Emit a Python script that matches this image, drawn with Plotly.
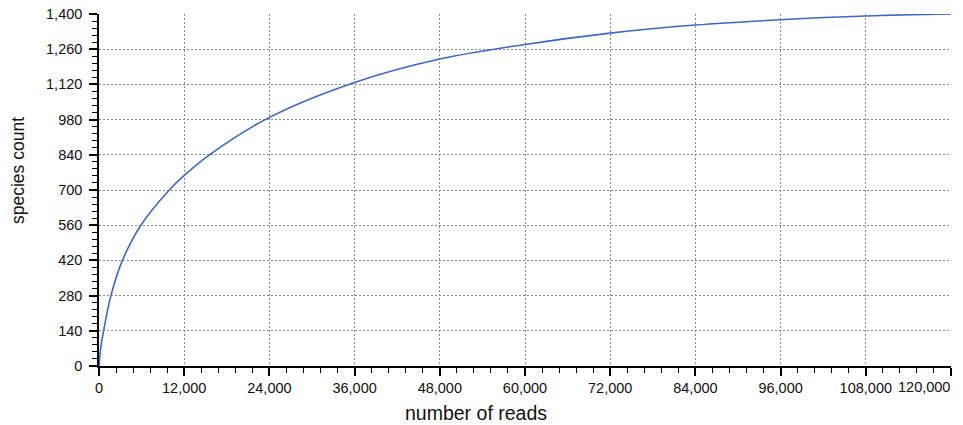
import plotly.graph_objects as go

reads = [0, 270, 650, 1680, 3300, 5900, 9900, 12000, 15560, 24000, 36000,
         48000, 60000, 72000, 84000, 96000, 108000, 120000]
species = [0, 77, 140, 280, 420, 560, 700, 758, 840, 989, 1128,
           1221, 1279, 1324, 1356, 1377, 1392, 1400]

x_ticks = list(range(0, 120001, 12000))
y_ticks = list(range(0, 1401, 140))
x_labels = [f"{v:,}" for v in x_ticks]

x_title = "number of reads"
y_title = "species count"

font_family = "Liberation Sans, Arial, sans-serif"

fig = go.Figure(go.Scatter(
    x=reads, y=species, mode="lines",
    line=dict(color="#3d66c6", width=1.6, shape="spline", smoothing=1.0),
    hoverinfo="skip", showlegend=False,
))

axis_common = dict(
    showline=True, linecolor="black", linewidth=1.5,
    ticks="outside", ticklen=8, tickwidth=1.5, tickcolor="black",
    showgrid=True, gridcolor="#8a8a8a", gridwidth=1, griddash="2px,2px",
    zeroline=False, automargin=False,
    tickfont=dict(family=font_family, size=14.5, color="#111"),
)

# last x label is right-aligned to its tick in the reference -> drawn as annotation
fig.update_xaxes(
    range=[0, 120000], tickvals=x_ticks,
    ticktext=x_labels[:-1] + [""],
    minor=dict(dtick=2400, ticks="outside", ticklen=5, tickwidth=1.3,
               tickcolor="black", showgrid=False),
    **axis_common,
)
fig.update_yaxes(
    range=[0, 1400], tickvals=y_ticks, tickformat=",",
    ticklabelstandoff=4,
    minor=dict(dtick=28, ticks="outside", ticklen=5, tickwidth=1.3,
               tickcolor="black", showgrid=False),
    **axis_common,
)

fig.add_annotation(
    x=x_ticks[-1], y=0, xref="x", yref="paper",
    text=x_labels[-1], showarrow=False,
    xanchor="right", yanchor="top", yshift=-11, xshift=1,
    font=dict(family=font_family, size=14.5, color="#111"),
)

# axis titles (offset from plot centre in the reference)
fig.add_annotation(
    x=0.4425, y=0, xref="paper", yref="paper", text=x_title, showarrow=False,
    xanchor="center", yanchor="middle", yshift=-47,
    font=dict(family=font_family, size=19.5, color="#111"),
)
fig.add_annotation(
    x=0, y=0.554, xref="paper", yref="paper", text=y_title, showarrow=False,
    textangle=-90, xanchor="center", yanchor="middle", xshift=-81,
    font=dict(family=font_family, size=17.5, color="#111"),
)

fig.update_layout(
    width=963, height=425,
    margin=dict(l=99, r=12, t=14, b=59),
    plot_bgcolor="white", paper_bgcolor="white",
)

fig.write_html("out.html", config={"displayModeBar": False},
               post_script="document.body.style.margin='0';")
